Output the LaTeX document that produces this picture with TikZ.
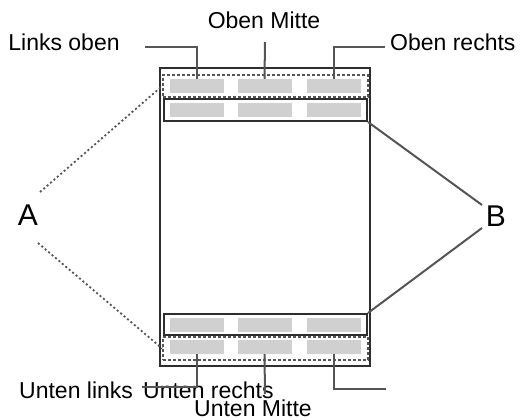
\documentclass[tikz,border=0pt]{standalone}
\usepackage{fontspec}
\setmainfont{Liberation Sans}
\usetikzlibrary{positioning, calc}
\definecolor{framegray}{HTML}{2E2E2E}
\definecolor{leadgray}{HTML}{555555}
\definecolor{blockgray}{HTML}{D0D0D0}

\tikzset{
  pagebox/.style={draw=framegray, line width=2pt},
  zonebox/.style={draw=leadgray, line width=1.6pt, dash pattern=on 3pt off 2pt},
  bandbox/.style={draw=framegray, line width=2pt},
  block/.style={fill=blockgray, draw=none, minimum width=54pt, minimum height=14pt, inner sep=0pt},
  leader/.style={draw=leadgray, line width=2pt},
  dotleader/.style={draw=leadgray, line width=1.8pt, dash pattern=on 2pt off 2.5pt},
  callout/.style={font=\fontsize{23}{26}\selectfont, inner sep=0pt},
  bigcall/.style={font=\fontsize{30}{33}\selectfont, inner sep=0pt}
}

\begin{document}
\begin{tikzpicture}[x=1pt, y=-1pt]
  \useasboundingbox (0,0) rectangle (523,420);

  % page and bands
  \draw[pagebox] (160,68) rectangle (370,366);
  \node[zonebox, minimum width=205pt, minimum height=22pt, inner sep=0pt] (hdr) at (265.5,86) {};
  \node[bandbox, minimum width=203pt, minimum height=22pt, inner sep=0pt] (bandtop) at (265.5,110) {};
  \node[bandbox, minimum width=203pt, minimum height=21pt, inner sep=0pt] (bandbot) at (265.5,324.5) {};
  \node[zonebox, minimum width=205pt, minimum height=23pt, inner sep=0pt] (ftr) at (265.5,348.5) {};

  % gray blocks
  \foreach \row/\yy in {h/86, bt/110, bb/324.5, f/347} {
    \node[block] (\row1) at (196.5,\yy) {};
    \node[block] (\row2) at (264.5,\yy) {};
    \node[block] (\row3) at (333.5,\yy) {};
  }

  % labels
  \node[callout] (lo) at (64,42) {Links oben};
  \node[callout] (om) at (264,20) {Oben Mitte};
  \node[callout, anchor=west] (or) at (390,42) {Oben rechts};
  \node[callout, anchor=west] (ul) at (19,390) {Unten links};
  \node[callout, anchor=west] (ur) at (143,390) {Unten rechts};
  \node[callout] (um) at (253,408) {Unten Mitte};
  \node[bigcall] (A) at (28,215) {A};
  \node[bigcall] (B) at (496,216) {B};

  % top leaders
  \draw[leader] (145,47) -| (h1.north);
  \draw[leader] (h2.north) -- (265,42);
  \draw[leader] (385,47) -| (h3.north);

  % bottom leaders
  \draw[leader] (f1.south) |- (142,387);
  \draw[leader] (f2.south) -- (265,394);
  \draw[leader] (f3.south) |- (386,389);

  % A and B connectors
  \draw[dotleader] (40,192) -- (hdr.west);
  \draw[dotleader] (38,243) -- (ftr.west);
  \draw[leader] (482,205) -- (bandtop.south east);
  \draw[leader] (482,228) -- (bandbot.north east);
\end{tikzpicture}
\end{document}
